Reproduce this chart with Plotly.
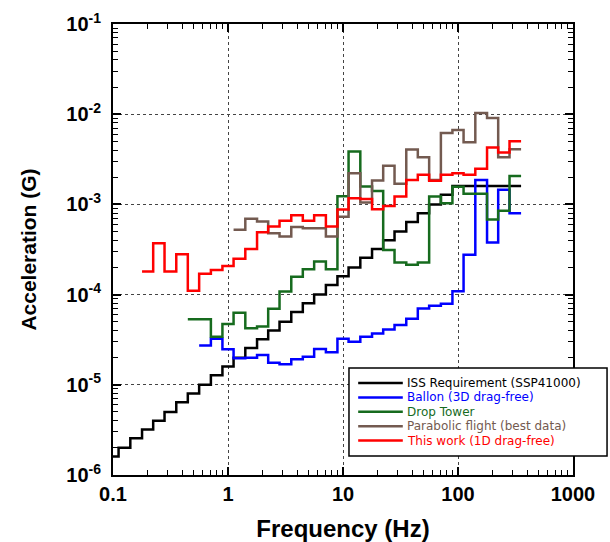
import plotly.graph_objects as go

# third-octave band centres (Hz)
band_centers = [0.1, 0.125, 0.16, 0.2, 0.25, 0.315, 0.4, 0.5, 0.63, 0.8,
                1, 1.25, 1.6, 2, 2.5, 3.15, 4, 5, 6.3, 8,
                10, 12.5, 16, 20, 25, 31.5, 40, 50, 63, 80,
                100, 125, 160, 200, 250, 315]

N = None
iss_req = [1.6e-6, 2.0e-6, 2.56e-6, 3.2e-6, 4.0e-6, 5.0e-6, 6.4e-6, 8.0e-6, 1.0e-5, 1.28e-5,
           1.6e-5, 2.0e-5, 2.56e-5, 3.2e-5, 4.0e-5, 5.0e-5, 6.4e-5, 8.0e-5, 1.0e-4, 1.28e-4,
           1.6e-4, 2.0e-4, 2.56e-4, 3.2e-4, 4.0e-4, 5.0e-4, 6.4e-4, 8.0e-4, 1.0e-3, 1.28e-3,
           1.6e-3, 1.6e-3, 1.6e-3, 1.6e-3, 1.6e-3, 1.6e-3]
balloon = [N, N, N, N, N, N, N, N, 2.72e-5, 3.23e-5,
           2.48e-5, 1.97e-5, 2.0e-5, 2.14e-5, 1.76e-5, 1.69e-5, 1.92e-5, 2.05e-5, 2.5e-5, 2.3e-5,
           3.23e-5, 3.0e-5, 3.4e-5, 3.7e-5, 4.1e-5, 4.6e-5, 5.4e-5, 7.0e-5, 7.5e-5, 7.9e-5,
           1.09e-4, 2.76e-4, 1.87e-3, 3.78e-4, 1.45e-3, 8.0e-4]
drop_tower = [N, N, N, N, N, N, N, 5.33e-5, 5.33e-5, 3.42e-5,
              4.73e-5, 6.3e-5, 4.24e-5, 4.42e-5, 6.95e-5, 1.08e-4, 1.58e-4, 1.91e-4, 2.33e-4, 1.91e-4,
              1.23e-3, 3.86e-3, 1.58e-3, 1.41e-3, 3.13e-4, 2.27e-4, 2.14e-4, 2.27e-4, 1.22e-3, 1.03e-3,
              1.57e-3, 1.31e-3, 1.31e-3, 6.8e-4, 8.5e-4, 2.06e-3]
parabolic = [N, N, N, N, N, N, N, N, N, N,
             N, 5.25e-4, 6.95e-4, 6.46e-4, 4.8e-4, 4.4e-4, 5.6e-4, 5.45e-4, 5.45e-4, 4.4e-4,
             7.3e-4, 2.22e-3, 1.05e-3, 1.84e-3, 2.68e-3, 1.69e-3, 4.05e-3, 3.34e-3, 1.87e-3, 6.2e-3,
             6.7e-3, 4.9e-3, 1.03e-2, 9.06e-3, 3.34e-3, 4.1e-3]
this_work = [N, N, N, 1.8e-4, 3.7e-4, 1.8e-4, 2.8e-4, 1.1e-4, 1.7e-4, 1.87e-4,
             2.08e-4, 2.5e-4, 3.2e-4, 4.9e-4, 5.7e-4, 6.6e-4, 7.6e-4, 6.6e-4, 7.6e-4, 5.7e-4,
             8.8e-4, 1.17e-3, 1.15e-3, 8.85e-4, 9.6e-4, 1.22e-3, 1.86e-3, 2.13e-3, 1.83e-3, 2.13e-3,
             2.22e-3, 2.13e-3, 2.48e-3, 4.28e-3, 3.77e-3, 5.0e-3]

series_names = ["ISS Requirement (SSP41000)", "Ballon (3D drag-free)", "Drop Tower",
                "Parabolic flight (best data)", "This work (1D drag-free)"]
series_values = [iss_req, balloon, drop_tower, parabolic, this_work]
series_colors = ["#000000", "#0000ff", "#166b1e", "#735a50", "#ff0000"]

x_tick_vals = [0.1, 1, 10, 100, 1000]
x_tick_text = ["0.1", "1", "10", "100", "1000"]
y_tick_vals = [1e-6, 1e-5, 1e-4, 1e-3, 1e-2, 1e-1]
y_tick_text = ["10<sup>-6</sup>", "10<sup>-5</sup>", "10<sup>-4</sup>",
               "10<sup>-3</sup>", "10<sup>-2</sup>", "10<sup>-1</sup>"]

# band edges: geometric mid-points between neighbouring centres
nb = len(band_centers)
inner = [(band_centers[i] * band_centers[i + 1]) ** 0.5 for i in range(nb - 1)]
lo_edges = [band_centers[0] / (inner[0] / band_centers[0])] + inner
hi_edges = inner + [band_centers[-1] * (band_centers[-1] / inner[-1])]


def step_xy(vals):
    idx = [i for i, v in enumerate(vals) if v is not None]
    xs = [lo_edges[i] for i in idx] + [hi_edges[idx[-1]]]
    ys = [vals[i] for i in idx] + [vals[idx[-1]]]
    return xs, ys


fig = go.Figure()
for name, vals, col in zip(series_names, series_values, series_colors):
    xs, ys = step_xy(vals)
    fig.add_trace(go.Scatter(x=xs, y=ys, mode="lines", line_shape="hv",
                             line=dict(color=col, width=2.5), name=name,
                             showlegend=False))


def minor_vals(lo_exp, hi_exp):
    out = []
    for e in range(lo_exp, hi_exp):
        for m in range(2, 10):
            out.append(m * 10 ** e)
    return out


axis_common = dict(
    type="log", showline=True, linecolor="black", linewidth=2, mirror="ticks",
    ticks="inside", ticklen=8, tickwidth=1.5, tickcolor="black",
    showgrid=True, gridcolor="#444444", griddash="dot", gridwidth=1,
    zeroline=False, automargin=False,
    tickfont=dict(family="Liberation Sans, Arial", size=20, color="black", weight="bold"),
)

fig.update_xaxes(**axis_common, range=[-1, 3], tickmode="array",
                 tickvals=x_tick_vals, ticktext=x_tick_text,
                 minor=dict(tickvals=minor_vals(-1, 3), ticks="inside", ticklen=5,
                            tickwidth=1, tickcolor="black", showgrid=False),
                 title=dict(text="Frequency (Hz)", standoff=21,
                            font=dict(family="Liberation Sans, Arial", size=24,
                                      color="black", weight="bold")))
fig.update_yaxes(**axis_common, range=[-6, -1], tickmode="array",
                 tickvals=y_tick_vals, ticktext=y_tick_text, ticklabelstandoff=6,
                 minor=dict(tickvals=minor_vals(-6, -1), ticks="inside", ticklen=5,
                            tickwidth=1, tickcolor="black", showgrid=False),
                 title=dict(text="Acceleration (G)", standoff=24,
                            font=dict(family="Liberation Sans, Arial", size=21,
                                      color="black", weight="bold")))

# legend box (drawn manually to match the compact original)
lx0, lx1, ly0, ly1 = 0.513, 1.074, 0.042, 0.237
fig.add_shape(type="rect", xref="paper", yref="paper", x0=lx0, x1=lx1, y0=ly0, y1=ly1,
              line=dict(color="black", width=1.5), fillcolor="white", layer="above")
row_y = [0.2040, 0.1721, 0.1401, 0.1082, 0.0763]
for name, col, yy in zip(series_names, series_colors, row_y):
    fig.add_shape(type="line", xref="paper", yref="paper", x0=0.533, x1=0.630,
                  y0=yy, y1=yy, line=dict(color=col, width=2.5), layer="above")
    fig.add_annotation(xref="paper", yref="paper", x=0.637, y=yy, text=name,
                       showarrow=False, xanchor="left", yanchor="middle",
                       borderpad=0, valign="middle",
                       font=dict(family="DejaVu Sans", size=12, color=col))

fig.update_layout(width=610, height=542, margin=dict(l=113, r=37, t=24, b=67),
                  plot_bgcolor="white", paper_bgcolor="white", showlegend=False)

fig.write_html("out.html")
